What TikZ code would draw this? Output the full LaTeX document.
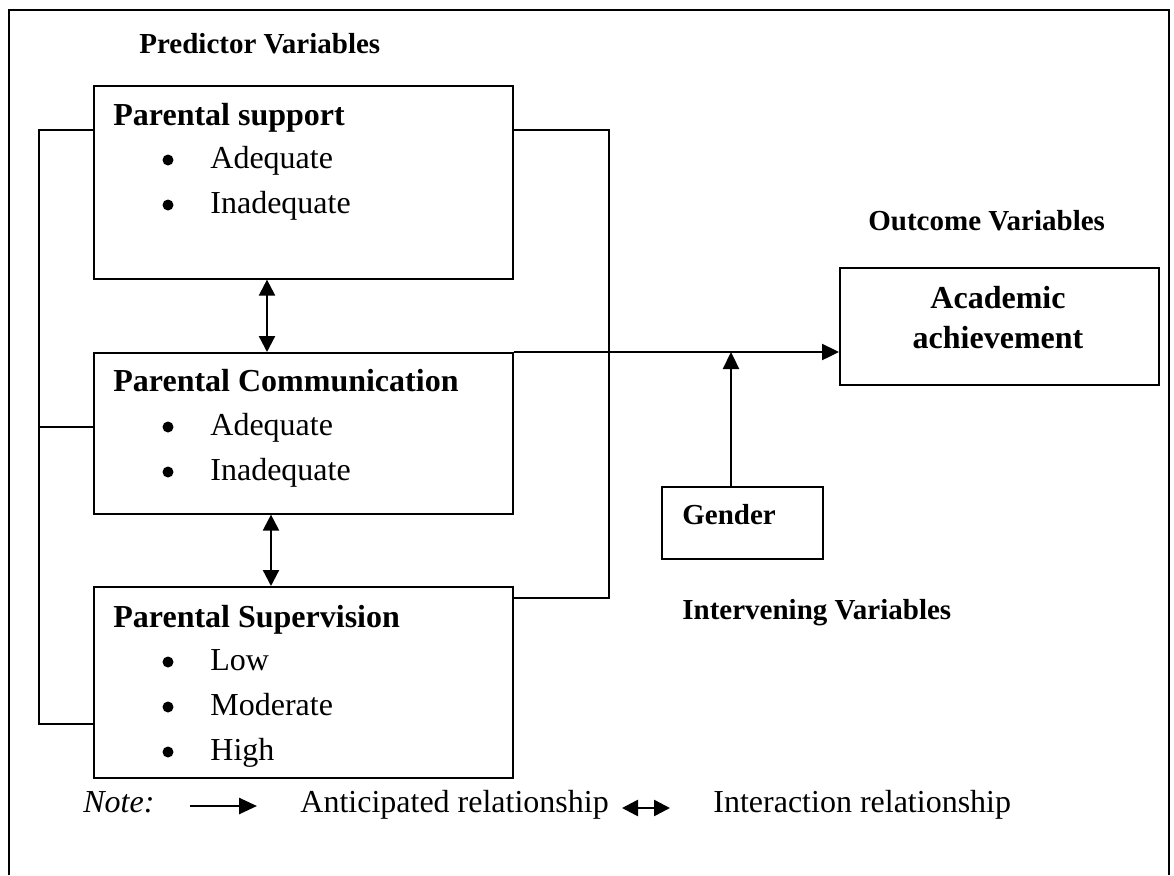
\documentclass[tikz,border=0pt]{standalone}
\usepackage{fontspec}
\setmainfont{Liberation Serif}
\usetikzlibrary{arrows.meta}
\begin{document}
\begin{tikzpicture}[x=0.5pt,y=-0.5pt,
 box/.style={draw,line width=0.8pt,anchor=north west,inner sep=0pt},
 ttl/.style={anchor=base west,inner sep=0pt,font=\fontsize{16}{19}\selectfont\bfseries},
 lbl/.style={anchor=base west,inner sep=0pt,font=\fontsize{14.5}{17}\selectfont\bfseries},
 itm/.style={anchor=base west,inner sep=0pt,font=\fontsize{16}{19}\selectfont},
 conn/.style={line width=0.8pt},
 arr/.style={line width=1.2pt,-{Triangle[length=8.5pt,width=8pt]}},
 darr/.style={line width=1.1pt,{Triangle[length=8pt,width=8pt]}-{Triangle[length=8pt,width=8pt]}},
 dot/.style={circle,fill,inner sep=0pt,minimum size=5.5pt}]
\useasboundingbox (0,0) rectangle (1174,875);
\draw[line width=0.8pt] (9,875) -- (9,10) -- (1169,10) -- (1169,875);

% headings
\node[lbl] (pred) at (139,53) {Predictor Variables};
\node[lbl] (outc) at (868,230) {Outcome Variables};
\node[lbl] (interv) at (682,619) {Intervening Variables};

% box 1
\node[box,minimum width=209.5pt,minimum height=96.5pt] (b1) at (93,85) {};
\node[ttl] (t1) at (113,125) {Parental support};
\node[dot] (d11) at (168,160) {};
\node[itm] (i11) at (210,168) {Adequate};
\node[dot] (d12) at (168,205) {};
\node[itm] (i12) at (210,213) {Inadequate};

% box 2
\node[box,minimum width=209.5pt,minimum height=80.5pt] (b2) at (93,352) {};
\node[ttl] (t2) at (113,391) {Parental Communication};
\node[dot] (d21) at (168,427) {};
\node[itm] (i21) at (210,435) {Adequate};
\node[dot] (d22) at (168,472) {};
\node[itm] (i22) at (210,480) {Inadequate};

% box 3
\node[box,minimum width=209.5pt,minimum height=95.5pt] (b3) at (93,586) {};
\node[ttl] (t3) at (113,627) {Parental Supervision};
\node[dot] (d31) at (168,662) {};
\node[itm] (i31) at (210,670) {Low};
\node[dot] (d32) at (168,707) {};
\node[itm] (i32) at (210,715) {Moderate};
\node[dot] (d33) at (168,752) {};
\node[itm] (i33) at (210,760) {High};

% outcome box
\node[box,minimum width=159.5pt,minimum height=58.5pt] (ach) at (839,267) {};
\node[anchor=base,inner sep=0pt,font=\fontsize{16}{19}\selectfont\bfseries] (ach1) at (998,308) {Academic};
\node[anchor=base,inner sep=0pt,font=\fontsize{16}{19}\selectfont\bfseries] (ach2) at (998,348) {achievement};

% gender box
\node[box,minimum width=80.5pt,minimum height=36pt] (gen) at (661,486) {};
\node[lbl] (gent) at (682,524) {Gender};

% brackets
\draw[conn] (b1.north west |- 0,130) -- (39,130) -- (39,724) -- (b3.north west |- 0,724);
\draw[conn] (39,427) -- (b2.north west |- 0,427);
\draw[conn] (b1.north east |- 0,130) -- (609,130) -- (609,598) -- (b3.north east |- 0,598);

% interaction arrows
\draw[darr] (b1.south -| 267,0) -- (b2.north -| 267,0);
\draw[darr] (b2.south -| 271,0) -- (b3.north -| 271,0);

% main arrow
\draw[arr] (b2.north east) -- (ach.west |- b2.north east);
\coordinate (jn) at (731,352);
\draw[arr] (gen.north -| jn) -- (jn);

% note
\node[anchor=base west,inner sep=0pt,font=\fontsize{16}{19}\selectfont\itshape] (note) at (83,812) {Note:};
\coordinate (na1) at (190,806);
\coordinate (na2) at (257,806);
\draw[line width=1.3pt,-{Triangle[length=9pt,width=8pt]}] (na1) -- (na2);
\node[itm] (ant) at (300,812) {Anticipated relationship};
\coordinate (nd1) at (622,808);
\coordinate (nd2) at (670,808);
\draw[line width=1.3pt,{Triangle[length=8pt,width=8pt]}-{Triangle[length=8pt,width=8pt]}] (nd1) -- (nd2);
\node[itm] (inter) at (713,812) {Interaction relationship};
\end{tikzpicture}
\end{document}
